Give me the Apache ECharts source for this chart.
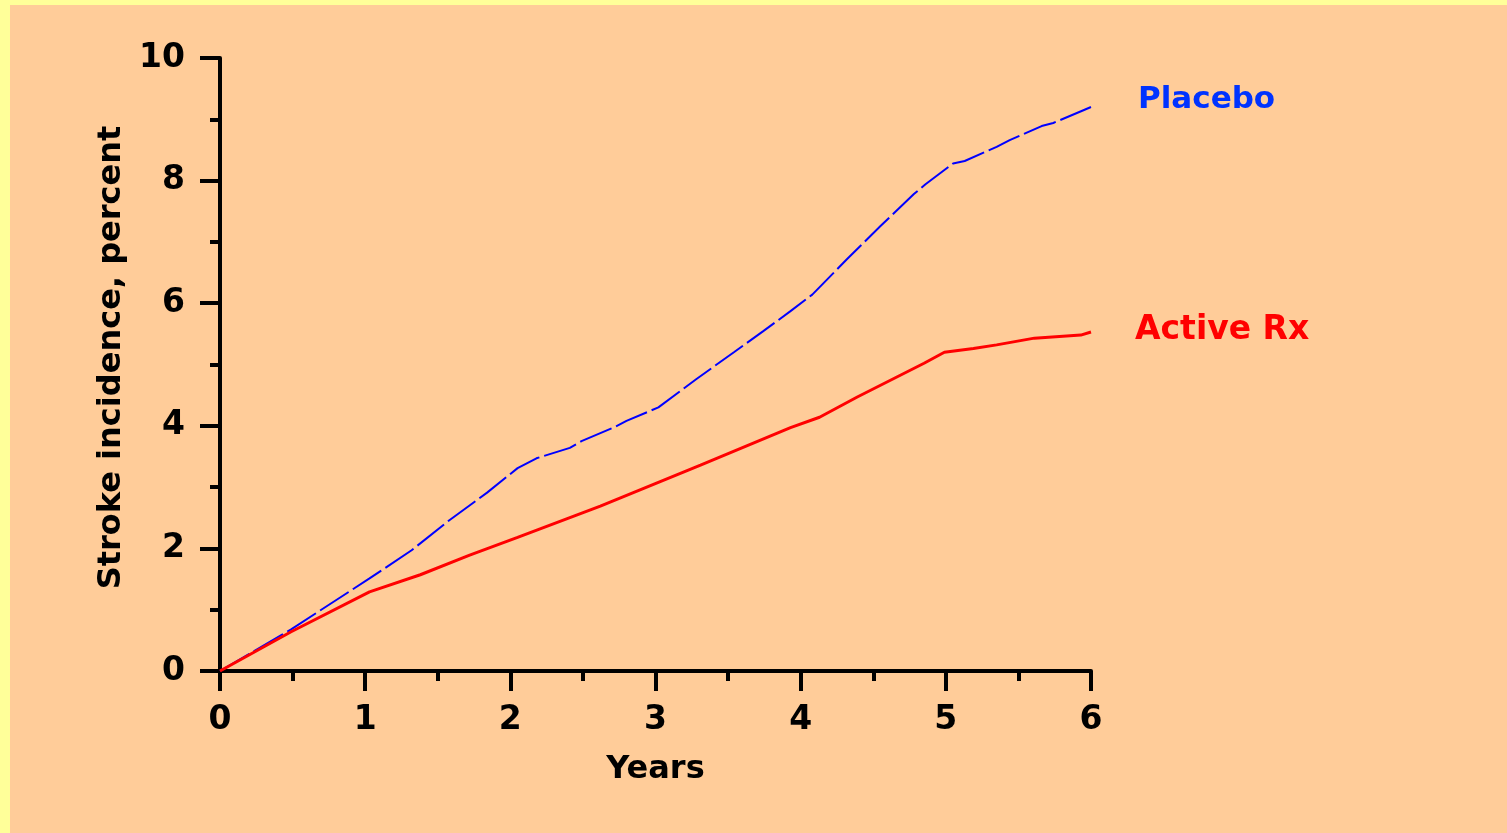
<!DOCTYPE html>
<html>
<head>
<meta charset="utf-8">
<script src="https://cdn.jsdelivr.net/npm/echarts@6/dist/echarts.min.js"></script>
<style>
  html, body { margin: 0; padding: 0; background: #FFFF99; width: 1507px; height: 833px; overflow: hidden; }
  #chart { position: absolute; left: 10px; top: 5px; width: 1497px; height: 828px; background: #FFCC99; }
</style>
</head>
<body>
<div id="chart"></div>
<script>
// Data: [years, stroke incidence %]
const placebo = [
  [0, 0], [0.49, 0.68], [1.03, 1.51], [1.32, 1.97], [1.58, 2.46], [1.84, 2.91],
  [2.05, 3.31], [2.18, 3.47], [2.41, 3.64], [2.49, 3.75], [2.71, 3.97], [2.80, 4.08],
  [3.02, 4.30], [3.28, 4.76], [3.54, 5.20], [3.74, 5.54], [3.93, 5.87], [4.08, 6.14],
  [4.32, 6.72], [4.55, 7.26], [4.78, 7.78], [4.86, 7.94], [5.05, 8.28], [5.13, 8.32],
  [5.35, 8.55], [5.44, 8.66], [5.66, 8.89], [5.74, 8.94], [5.96, 9.16], [6.0, 9.2]
];
const activeRx = [
  [0, 0], [0.49, 0.64], [1.03, 1.29], [1.38, 1.57], [1.72, 1.89], [2.05, 2.18],
  [2.62, 2.69], [3.31, 3.36], [3.93, 3.97], [4.13, 4.14], [4.39, 4.47], [4.85, 5.02],
  [4.99, 5.20], [5.19, 5.26], [5.35, 5.32], [5.61, 5.43], [5.93, 5.48], [6.0, 5.53]
];
const seriesNames = ['Placebo', 'Active Rx'];
const xAxisTitle = 'Years';
const yAxisTitle = 'Stroke incidence, percent';

const FONT = '"DejaVu Sans", sans-serif';
const chart = echarts.init(document.getElementById('chart'), null, { renderer: 'canvas' });

const axisCommon = {
  axisLine: { show: true, lineStyle: { color: '#000', width: 4 } },
  axisTick: { show: true, length: 20, lineStyle: { color: '#000', width: 4 } },
  minorTick: { show: true, splitNumber: 2, length: 10, lineStyle: { color: '#000', width: 4 } },
  splitLine: { show: false },
  minorSplitLine: { show: false },
  axisLabel: { color: '#000', fontFamily: FONT, fontWeight: 'bold', fontSize: 33 },
  nameTextStyle: { color: '#000', fontFamily: FONT, fontWeight: 'bold', fontSize: 32 }
};

chart.setOption({
  animation: false,
  backgroundColor: 'transparent',
  grid: { left: 210, right: 416, top: 53, bottom: 162, containLabel: false },
  xAxis: Object.assign({}, axisCommon, {
    type: 'value', min: 0, max: 6, interval: 1,
    name: xAxisTitle, nameLocation: 'middle', nameGap: 83,
    axisLabel: Object.assign({}, axisCommon.axisLabel, { margin: 33 })
  }),
  yAxis: Object.assign({}, axisCommon, {
    type: 'value', min: 0, max: 10, interval: 2,
    name: yAxisTitle, nameLocation: 'middle', nameGap: 85, nameRotate: 90,
    nameTextStyle: Object.assign({}, axisCommon.nameTextStyle, { padding: [0, 0, 0, 14] }),
    axisLabel: Object.assign({}, axisCommon.axisLabel, { margin: 35 })
  }),
  series: [
    {
      name: seriesNames[0], type: 'line', data: placebo, symbol: 'none',
      lineStyle: { color: '#0000FF', width: 2, type: [34, 5] },
      endLabel: { show: true, formatter: seriesNames[0], color: '#0033FF', fontFamily: FONT,
        fontWeight: 'bold', fontSize: 31, offset: [39, -7] }
    },
    {
      name: seriesNames[1], type: 'line', data: activeRx, symbol: 'none',
      lineStyle: { color: '#FF0000', width: 3 },
      endLabel: { show: true, formatter: seriesNames[1], color: '#FF0000', fontFamily: FONT,
        fontWeight: 'bold', fontSize: 33, offset: [36, -2] }
    }
  ]
});
</script>
</body>
</html>
